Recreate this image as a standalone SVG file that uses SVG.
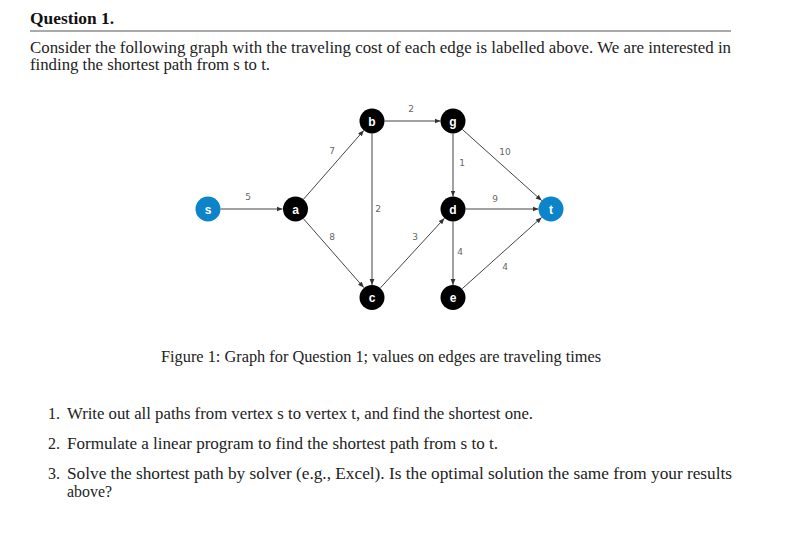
<svg xmlns="http://www.w3.org/2000/svg" width="805" height="550" viewBox="0 0 805 550">
<defs>
<marker id="arr" viewBox="0 0 10 10" refX="10" refY="5" markerWidth="6" markerHeight="6" markerUnits="userSpaceOnUse" orient="auto">
<path d="M0,1 L10,5 L0,9 z" fill="#333"/>
</marker>
</defs>
<style>
.t{font-family:"Liberation Serif","Times New Roman",serif;font-size:16px;fill:#222}
.h{font-family:"Liberation Serif","Times New Roman",serif;font-size:16px;font-weight:bold;fill:#111}
.e{stroke:#444;stroke-width:1;fill:none;marker-end:url(#arr)}
.lbl{font-family:"DejaVu Sans","Liberation Sans",sans-serif;font-size:9px;fill:#666;text-anchor:middle}
.n{fill:#000}
.nb{fill:#0b84c9}
.nl{font-family:"Liberation Sans",Arial,sans-serif;font-size:12px;font-weight:bold;fill:#fff;text-anchor:middle}
</style>
<rect width="805" height="550" fill="#fff"/>
<text class="h" x="30" y="24" textLength="84" lengthAdjust="spacingAndGlyphs">Question 1.</text>
<line x1="30" y1="31" x2="731" y2="31" stroke="#555" stroke-width="1"/>
<text class="t" x="30" y="53" textLength="701" lengthAdjust="spacingAndGlyphs">Consider the following graph with the traveling cost of each edge is labelled above. We are interested in</text>
<text class="t" x="30" y="70" textLength="240" lengthAdjust="spacingAndGlyphs">finding the shortest path from s to t.</text>

<g id="connectors">
<line class="e" x1="220.5" y1="209" x2="282.5" y2="209"/>
<line class="e" x1="303.2" y1="199.6" x2="363.8" y2="130.4"/>
<line class="e" x1="303.2" y1="218.4" x2="363.8" y2="287.6"/>
<line class="e" x1="384.5" y1="121" x2="440.5" y2="121"/>
<line class="e" x1="372" y1="133.5" x2="372" y2="285"/>
<line class="e" x1="453" y1="133.5" x2="453" y2="196.5"/>
<line class="e" x1="462.3" y1="129.4" x2="541.7" y2="200.6"/>
<line class="e" x1="380.5" y1="287.8" x2="444.5" y2="218.2"/>
<line class="e" x1="465.5" y1="209" x2="538.5" y2="209"/>
<line class="e" x1="453" y1="221.5" x2="453" y2="285"/>
<line class="e" x1="462.3" y1="288.6" x2="541.7" y2="217.4"/>
<text class="lbl" x="248" y="200">5</text>
<text class="lbl" x="332" y="154">7</text>
<text class="lbl" x="411" y="112">2</text>
<text class="lbl" x="505" y="155">10</text>
<text class="lbl" x="462" y="166">1</text>
<text class="lbl" x="495" y="202">9</text>
<text class="lbl" x="378" y="212">2</text>
<text class="lbl" x="332" y="240">8</text>
<text class="lbl" x="415" y="240">3</text>
<text class="lbl" x="460" y="255">4</text>
<text class="lbl" x="505" y="270">4</text>
</g>

<g id="node-s"><circle class="nb" cx="208" cy="209" r="12.5"/><text class="nl" x="208" y="213.5">s</text></g>
<g id="node-a"><circle class="n" cx="295.5" cy="209" r="12.5"/><text class="nl" x="295.5" y="213.5">a</text></g>
<g id="node-b"><circle class="n" cx="372" cy="121" r="12.5"/><text class="nl" x="372" y="125.5">b</text></g>
<g id="node-g"><circle class="n" cx="453" cy="121" r="12.5"/><text class="nl" x="453" y="125.5">g</text></g>
<g id="node-d"><circle class="n" cx="453" cy="209" r="12.5"/><text class="nl" x="453" y="213.5">d</text></g>
<g id="node-t"><circle class="nb" cx="551" cy="209" r="12.5"/><text class="nl" x="551" y="213.5">t</text></g>
<g id="node-c"><circle class="n" cx="372" cy="297.5" r="12.5"/><text class="nl" x="372" y="302">c</text></g>
<g id="node-e"><circle class="n" cx="453" cy="297.5" r="12.5"/><text class="nl" x="453" y="302">e</text></g>

<text class="t" x="161" y="362" textLength="440" lengthAdjust="spacingAndGlyphs">Figure 1: Graph for Question 1; values on edges are traveling times</text>

<text class="t" x="48" y="419">1.</text>
<text class="t" x="67" y="419" textLength="466" lengthAdjust="spacingAndGlyphs">Write out all paths from vertex s to vertex t, and find the shortest one.</text>
<text class="t" x="48" y="449">2.</text>
<text class="t" x="67" y="449" textLength="431" lengthAdjust="spacingAndGlyphs">Formulate a linear program to find the shortest path from s to t.</text>
<text class="t" x="48" y="479">3.</text>
<text class="t" x="67" y="479" textLength="665" lengthAdjust="spacingAndGlyphs">Solve the shortest path by solver (e.g., Excel). Is the optimal solution the same from your results</text>
<text class="t" x="67" y="497" textLength="45" lengthAdjust="spacingAndGlyphs">above?</text>
</svg>
